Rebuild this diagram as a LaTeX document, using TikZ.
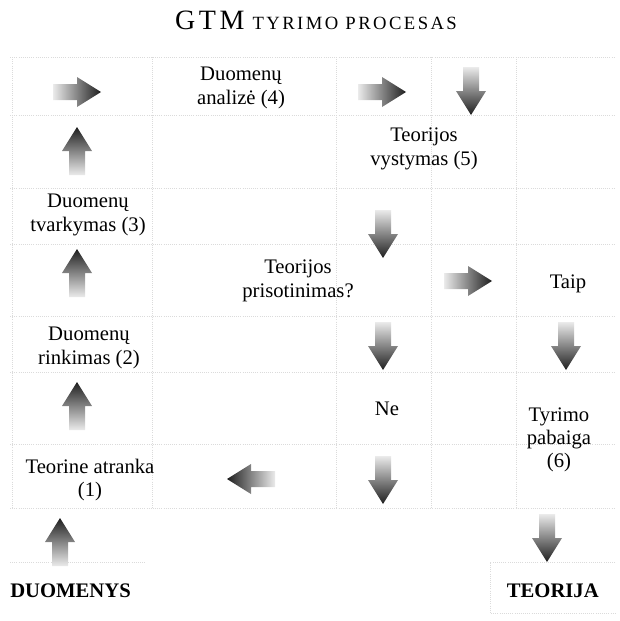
\documentclass[tikz,border=0pt]{standalone}
\usepackage{fontspec}
\setmainfont{Liberation Serif}
\newfontfamily\titlefont[LetterSpace=13]{Liberation Serif}
\usetikzlibrary{positioning,calc}

\tikzset{
  txt/.style={font=\fontsize{15.5}{17.5}\selectfont, align=center, inner sep=0pt},
  bold txt/.style={font=\fontsize{15.5}{17.5}\selectfont\bfseries, inner sep=0pt},
  grid line/.style={black!14, densely dotted, line width=0.6pt},
  arrowR/.style={left color=black!8, right color=black!88},
  arrowL/.style={left color=black!88, right color=black!8},
  arrowU/.style={top color=black!88, bottom color=black!8},
  arrowD/.style={top color=black!8, bottom color=black!88},
  pics/gtmarrow/.style={code={
    \shade[#1] (-24,-8) -- (0,-8) -- (0,-15) -- (24,0) -- (0,15) -- (0,8) -- (-24,8) -- cycle;
  }},
}

\begin{document}
\begin{tikzpicture}[x=0.75pt,y=0.75pt,yscale=-1,xscale=1]
\useasboundingbox (0,0) rectangle (620,621);
        %Table grid (faint)
        \foreach \y in {57,115,188,244,316,372,444,508}
            \draw[grid line] (10,\y) -- (615,\y);
        \foreach \x in {12,152,336,431,516}
            \draw[grid line] (\x,57) -- (\x,508);
        \draw[grid line] (10,562) -- (146,562);
        \draw[grid line] (615,562) -- (490,562) -- (490,613) -- (615,613);
        % Title
        \node[anchor=base, inner sep=0pt] (title) at (316,29)
            {{\fontsize{21}{24}\titlefont GTM}\hspace{6pt}{\fontsize{14}{16}\titlefont TYRIMO PROCESAS}};
        % Text Node
        \node[txt] (analiz) at (241,88) {Duomenų\\analizė (4)};
        \node[txt] (vyst) at (424,149) {Teorijos\\vystymas (5)};
        \node[txt] (tvark) at (88,215) {Duomenų\\tvarkymas (3)};
        \node[txt] (prisot) at (298,281) {Teorijos\\prisotinimas?};
        \node[txt, anchor=base] (taip) at (568,288) {Taip};
        \node[txt] (rink) at (89,348) {Duomenų\\rinkimas (2)};
        \node[txt, anchor=base] (ne) at (387,415) {Ne};
        \node[txt] (pab) at (559,440) {Tyrimo\\pabaiga\\(6)};
        \node[txt] (atr) at (90,480) {Teorine atranka\\(1)};
        \node[bold txt, anchor=base west] (duom) at (10,597) {DUOMENYS};
        \node[bold txt, anchor=base east] (teor) at (599,597) {TEORIJA};
        %Shape: Arrows
        \pic at (77,92) {gtmarrow=arrowR};
        \pic at (382,92) {gtmarrow=arrowR};
        \pic[rotate=-90] at (471,91) {gtmarrow=arrowD};
        \pic[rotate=90] at (77,151) {gtmarrow=arrowU};
        \pic[rotate=-90] at (383,234) {gtmarrow=arrowD};
        \pic[rotate=90] at (77,273) {gtmarrow=arrowU};
        \pic at (468,281) {gtmarrow=arrowR};
        \pic[rotate=-90] at (383,346) {gtmarrow=arrowD};
        \pic[rotate=-90] at (566,346) {gtmarrow=arrowD};
        \pic[rotate=90] at (77,406) {gtmarrow=arrowU};
        \pic[rotate=180] at (251,479) {gtmarrow=arrowL};
        \pic[rotate=-90] at (383,480) {gtmarrow=arrowD};
        \pic[rotate=90] at (60,542) {gtmarrow=arrowU};
        \pic[rotate=-90] at (547,538) {gtmarrow=arrowD};
\end{tikzpicture}
\end{document}
